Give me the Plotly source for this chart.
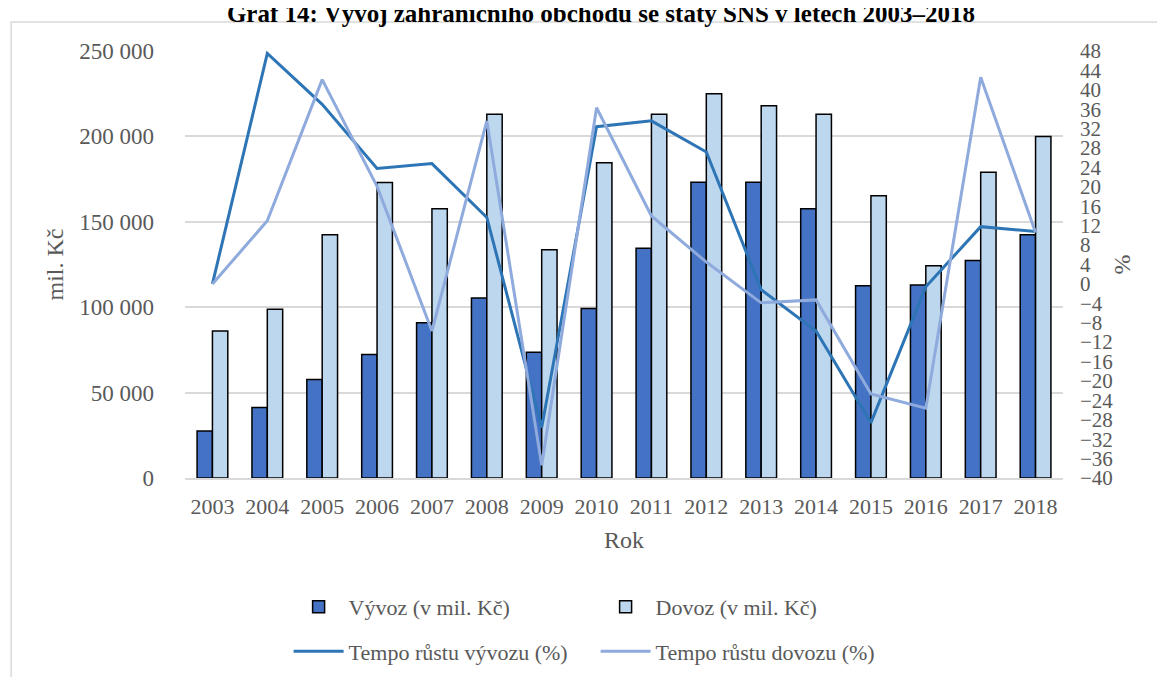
import plotly.graph_objects as go

years = [str(y) for y in range(2003, 2019)]

# mil. Kč
vyvoz = [27500, 41300, 57700, 72300, 90900, 105400, 73600, 99200,
         134500, 173200, 173200, 157600, 112600, 113000, 127300, 142400]
dovoz = [86100, 98800, 142400, 173000, 157600, 213000, 133600, 184500,
         213000, 225000, 218000, 213000, 165300, 124200, 179000, 200000]

# tempo růstu (%)
tempo_vyvozu = [0, 47.5, 37, 23.8, 24.8, 13.7, -29.6, 32.4,
                33.6, 27.2, -1.2, -9.7, -28.6, -0.6, 11.8, 10.8]
tempo_dovozu = [0, 13, 42.1, 20.1, -9.7, 33.6, -37.4, 36.3,
                14, 4.5, -3.9, -3.3, -22.7, -25.6, 42.6, 10.6]

FONT = 'Liberation Serif, Times New Roman, serif'
GREY = '#595959'

fig = go.Figure()

fig.add_trace(go.Bar(
    x=years, y=vyvoz, name='Vývoz (v mil. Kč)',
    marker=dict(color='#4472C4', line=dict(color='black', width=1.5)),
    legend='legend'
))
fig.add_trace(go.Bar(
    x=years, y=dovoz, name='Dovoz (v mil. Kč)',
    marker=dict(color='#BDD7EE', line=dict(color='black', width=1.5)),
    legend='legend'
))
fig.add_trace(go.Scatter(
    x=years, y=tempo_vyvozu, name='Tempo růstu vývozu (%)',
    mode='lines', line=dict(color='#2E75B6', width=3),
    yaxis='y2', legend='legend2'
))
fig.add_trace(go.Scatter(
    x=years, y=tempo_dovozu, name='Tempo růstu dovozu (%)',
    mode='lines', line=dict(color='#8FAADC', width=3),
    yaxis='y2', legend='legend2'
))

legend_style = dict(
    orientation='h', font=dict(family=FONT, size=22, color=GREY),
    entrywidth=242, entrywidthmode='pixels', itemwidth=50,
    xanchor='left', yanchor='middle', bgcolor='rgba(0,0,0,0)',
    itemclick=False
)

fig.update_layout(
    width=1165, height=677,
    paper_bgcolor='white', plot_bgcolor='white',
    font=dict(family=FONT, color=GREY, size=22),
    separators=', ',
    barmode='group', bargap=0.44, bargroupgap=0,
    margin=dict(l=177, r=110, t=43, b=201),
    title=dict(
        text='<b>Graf 14: Vývoj zahraničního obchodu se státy SNS v letech 2003–2018</b>',
        font=dict(family=FONT, size=25, color='black'),
        x=0.509, xanchor='center', y=0.993, yanchor='middle'
    ),
    xaxis=dict(
        title=dict(text='Rok', font=dict(size=24), standoff=13),
        showgrid=False, showline=True, linecolor='#D9D9D9', linewidth=1.5,
        ticks='', ticklabelstandoff=8, tickfont=dict(size=22)
    ),
    yaxis=dict(
        title=dict(text='mil. Kč', font=dict(size=24), standoff=8),
        range=[0, 250000], dtick=50000, tickformat=',d',
        showgrid=True, gridcolor='#D9D9D9', gridwidth=1.5,
        zeroline=False, ticklabelstandoff=30, tickfont=dict(size=23)
    ),
    yaxis2=dict(
        title=dict(text='%', font=dict(size=24), standoff=0),
        overlaying='y', side='right', range=[-40, 48], dtick=4,
        showgrid=False, zeroline=False, ticklabelstandoff=16,
        tickfont=dict(size=21)
    ),
    legend=dict(x=0.118, y=-0.302, **legend_style),
    legend2=dict(x=0.118, y=-0.406, **legend_style),
    shapes=[dict(
        type='rect', xref='paper', yref='paper',
        x0=-0.198, x1=1.35, y0=-0.5, y1=1.068,
        line=dict(color='#D9D9D9', width=1.5), layer='below'
    )]
)

fig.write_html('out.html')
